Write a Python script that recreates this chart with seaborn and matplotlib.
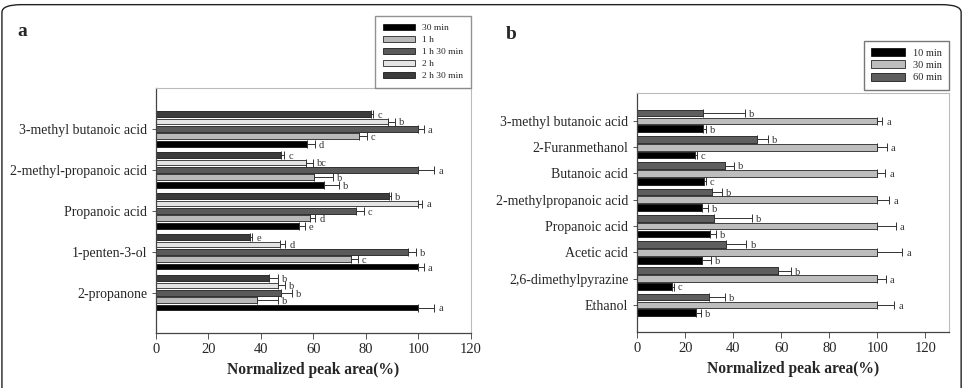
import matplotlib
matplotlib.use("Agg")
import matplotlib.pyplot as plt
from matplotlib.patches import Patch, FancyBboxPatch
import numpy as np
import pandas as pd
import seaborn as sns

sns.set_style("ticks")
plt.rcParams["font.family"] = ["Liberation Serif", "DejaVu Serif"]

# ---- panel a data ----
cats_a = ["3-methyl butanoic acid", "2-methyl-propanoic acid", "Propanoic acid",
          "1-penten-3-ol", "2-propanone"]
times_a = ["30 min", "1 h", "1 h 30 min", "2 h", "2 h 30 min"]
vals_a = {
    "30 min": [57.6, 63.9, 54.4, 100, 100],
    "1 h": [77.3, 60.1, 58.6, 74.5, 38.6],
    "1 h 30 min": [100, 100, 76.4, 96.0, 47.7],
    "2 h": [88.4, 57.3, 100, 47.4, 46.6],
    "2 h 30 min": [81.8, 47.8, 89.0, 35.7, 43.2],
}
errs_a = {
    "30 min": [3.0, 5.8, 2.3, 2.0, 6.0],
    "1 h": [3.0, 7.4, 2.2, 2.4, 8.0],
    "1 h 30 min": [2.0, 6.0, 2.8, 3.0, 4.0],
    "2 h": [2.7, 2.6, 1.5, 1.9, 2.6],
    "2 h 30 min": [1.0, 1.0, 0.7, 0.9, 3.4],
}
letters_a = {
    "30 min": ["d", "b", "e", "a", "a"],
    "1 h": ["c", "b", "d", "c", "b"],
    "1 h 30 min": ["a", "a", "c", "b", "b"],
    "2 h": ["b", "bc", "a", "d", "b"],
    "2 h 30 min": ["c", "c", "b", "e", "b"],
}
colors_a = {"30 min": "#000000", "1 h": "#b9b9b9", "1 h 30 min": "#5a5a5a",
            "2 h": "#e4e4e4", "2 h 30 min": "#3c3c3c"}

# ---- panel b data ----
cats_b = ["3-methyl butanoic acid", "2-Furanmethanol", "Butanoic acid",
          "2-methylpropanoic acid", "Propanoic acid", "Acetic acid",
          "2,6-dimethylpyrazine", "Ethanol"]
times_b = ["10 min", "30 min", "60 min"]
vals_b = {
    "10 min": [27.2, 24.0, 27.8, 27.1, 30.3, 27.1, 14.6, 24.3],
    "30 min": [100, 100, 100, 100, 100, 100, 100, 100],
    "60 min": [27.2, 49.7, 36.4, 31.1, 32.1, 36.8, 58.7, 29.7],
}
errs_b = {
    "10 min": [1.4, 0.7, 0.8, 2.3, 2.5, 3.6, 0.6, 2.2],
    "30 min": [2.0, 4.0, 3.4, 5.0, 7.7, 10.4, 3.5, 7.0],
    "60 min": [17.6, 4.6, 3.9, 4.0, 15.7, 8.7, 5.4, 6.8],
}
letters_b = {
    "10 min": ["b", "c", "c", "b", "b", "b", "c", "b"],
    "30 min": ["a"] * 8,
    "60 min": ["b"] * 8,
}
colors_b = {"10 min": "#000000", "30 min": "#bdbdbd", "60 min": "#5e5e5e"}


def long_frame(cats, times, vals):
    rows = []
    for t in times:
        for c, v in zip(cats, vals[t]):
            rows.append([c, t, v])
    return pd.DataFrame(rows, columns=["Compound", "Time", "Area"])


def draw_panel(ax, cats, times, vals, errs, letters, colors, gap):
    df = long_frame(cats, times, vals)
    hue_order = times[::-1]
    sns.barplot(data=df, x="Area", y="Compound", hue="Time", order=cats,
                hue_order=hue_order, orient="h", palette=colors,
                edgecolor="black", linewidth=0.5, width=0.9, gap=gap,
                errorbar=None, legend=False, ax=ax)
    for t, cont in zip(hue_order, ax.containers):
        for p in cont.patches:
            yc = p.get_y() + p.get_height() / 2
            i = int(round(yc))
            v = vals[t][i]
            e = errs[t][i]
            ax.errorbar(v, yc, xerr=[[0], [e]], fmt="none", ecolor="#333333",
                        elinewidth=0.7, capsize=2.6, capthick=0.7)
            ax.annotate(letters[t][i], (v + e, yc), xytext=(3, -1),
                        textcoords="offset points", ha="left", va="center",
                        fontsize=7.5, color="#333333")
    ax.set_ylabel("")
    ax.set_xlabel("Normalized peak area(%)", fontsize=11.2, fontweight="bold")
    ax.set_xticks(np.arange(0, 121, 20))
    ax.tick_params(axis="x", labelsize=10.5, length=4, width=0.7, color="#555555")
    ax.tick_params(axis="y", labelsize=10, length=3, width=0.7, color="#555555")
    for s in ["left", "bottom"]:
        ax.spines[s].set_color("#444444")
        ax.spines[s].set_linewidth(0.9)
    for s in ["top", "right"]:
        ax.spines[s].set_color("#bbbbbb")
        ax.spines[s].set_linewidth(0.8)


fig = plt.figure(figsize=(9.65, 3.88), dpi=100)

ax_a = fig.add_axes([0.1617, 0.1418, 0.3261, 0.6314])
draw_panel(ax_a, cats_a, times_a, vals_a, errs_a, letters_a, colors_a, 0.22)
ax_a.set_xlim(0, 120)
ax_a.set_ylim(4.98, -1.0)
ax_a.legend(handles=[Patch(facecolor=colors_a[t], edgecolor="black", linewidth=0.5,
                           label=t) for t in times_a],
            loc="upper right", bbox_to_anchor=(1.0, 1.294), borderaxespad=0,
            fontsize=6.8, frameon=True, fancybox=False, edgecolor="#777777",
            handlelength=3.4, handleheight=0.6, labelspacing=0.4,
            borderpad=0.8, handletextpad=0.8)

ax_b = fig.add_axes([0.6604, 0.1443, 0.3233, 0.616])
draw_panel(ax_b, cats_b, times_b, vals_b, errs_b, letters_b, colors_b, 0.15)
ax_b.set_xlim(0, 130)
ax_b.set_ylim(8.03, -1.06)
ax_b.legend(handles=[Patch(facecolor=colors_b[t], edgecolor="black", linewidth=0.5,
                           label=t) for t in times_b],
            loc="upper right", bbox_to_anchor=(1.0, 1.218), borderaxespad=0,
            fontsize=7.5, frameon=True, fancybox=False, edgecolor="#555555",
            handlelength=3.2, handleheight=0.8, labelspacing=0.25,
            borderpad=0.7, handletextpad=0.8)

fig.text(0.018, 0.918, "a", fontsize=14, fontweight="bold", va="center")
fig.text(0.524, 0.91, "b", fontsize=14, fontweight="bold", va="center")

frame = FancyBboxPatch((0.002, -0.1), 0.994, 1.088, transform=fig.transFigure,
                       boxstyle="round,pad=0,rounding_size=0.02",
                       facecolor="none", edgecolor="#222222", linewidth=1.0)
fig.patches.append(frame)

fig.savefig("out.png", dpi=100)
